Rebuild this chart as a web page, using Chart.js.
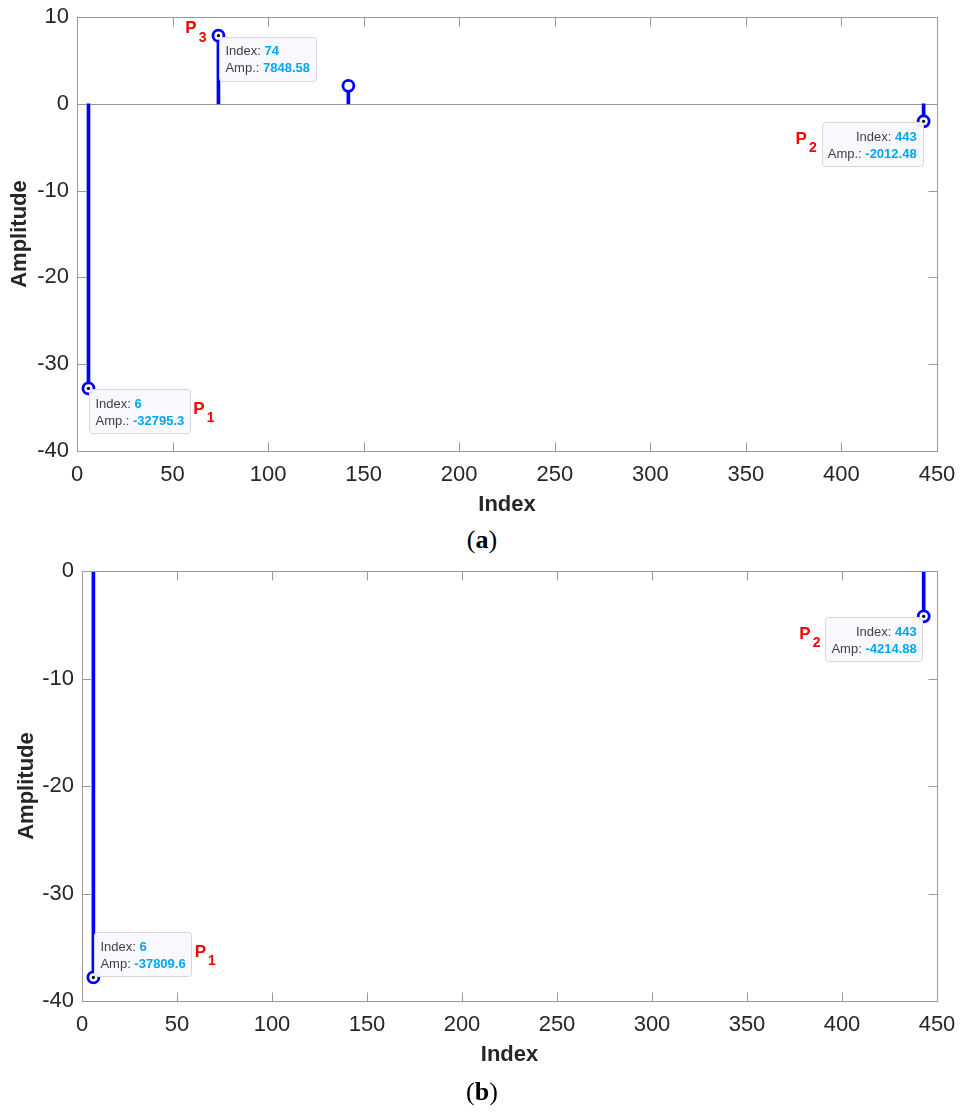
<!DOCTYPE html>
<html>
<head>
<meta charset="utf-8">
<script src="https://cdn.jsdelivr.net/npm/chart.js@4.4.1/dist/chart.umd.min.js"></script>
<style>
  body { margin: 0; background: #fff; width: 964px; height: 1115px; position: relative; overflow: hidden; }
  .box { position: absolute; left: 0; width: 964px; }
  #boxA { top: 0; height: 520px; }
  #boxB { top: 550px; height: 530px; }
  .caption { position: absolute; left: 0; width: 964px; text-align: center; font-family: "Liberation Serif", "Times New Roman", serif; font-size: 26px; line-height: 30px; color: #000; }
</style>
</head>
<body>
<div class="box" id="boxA"><canvas id="chartA"></canvas></div>
<div class="caption" style="top:525px">(<b>a</b>)</div>
<div class="box" id="boxB"><canvas id="chartB"></canvas></div>
<div class="caption" style="top:1077px">(<b>b</b>)</div>
<script>
// Data (amplitudes in raw units, axis shows them /1000)
const indexA = [6, 74, 142, 443];
const ampA = [-32795.3, 7848.58, 2070, -2012.48];
const indexB = [6, 443];
const ampB = [-37809.6, -4214.88];

// Axis ticks
const xTicks = [0, 50, 100, 150, 200, 250, 300, 350, 400, 450];
const yTicksA = [-40, -30, -20, -10, 0, 10];
const yTicksB = [-40, -30, -20, -10, 0];

// Data tips: which point (position in the arrays above) and the peak name
const tipPointA = [0, 3, 1];
const tipNameA = ["1", "2", "3"];
const tipPointB = [0, 1];
const tipNameB = ["1", "2"];

const blue = "#0000ff";
const axisColor = "#9a9a9a";
const textColor = "#262626";
const fontFamily = "'Liberation Sans', Arial, Helvetica, sans-serif";

// placement of each tip box relative to its point, and of its P label
const tipLayoutA = [
  { dx: 1, dy: 1, label: "right" },
  { dx: -1, dy: 1, label: "left" },
  { dx: 1, dy: 1, label: "point" },
];
const tipLayoutB = [
  { dx: 1, dy: -1, label: "right" },
  { dx: -1, dy: 1, label: "left" },
];

let drawPeakLabel = (ctx, x, yMid, sub, alignRight) => {
  ctx.fillStyle = "#ff0000";
  ctx.textBaseline = "middle";
  ctx.textAlign = "left";
  ctx.font = "bold 17px " + fontFamily;
  let wP = ctx.measureText("P").width;
  ctx.font = "bold 14px " + fontFamily;
  let wS = ctx.measureText(sub).width;
  let start = alignRight ? x - (wP + 2 + wS) : x;
  ctx.font = "bold 17px " + fontFamily;
  ctx.fillText("P", start, yMid);
  ctx.font = "bold 14px " + fontFamily;
  ctx.fillText(sub, start + wP + 2, yMid + 9);
};

let drawTip = (ctx, px, py, idx, amp, ampLabel, name, lay) => {
  let l1 = "Index: ", v1 = String(idx);
  let l2 = ampLabel + " ", v2 = String(amp);
  ctx.font = "13px " + fontFamily;
  let wl1 = ctx.measureText(l1).width, wl2 = ctx.measureText(l2).width;
  ctx.font = "bold 13px " + fontFamily;
  let wv1 = ctx.measureText(v1).width, wv2 = ctx.measureText(v2).width;
  let boxW = Math.max(wl1 + wv1, wl2 + wv2) + 12;
  let boxH = 44;
  let bx = lay.dx > 0 ? px + 1 : px - 1 - boxW;
  let by = lay.dy > 0 ? py + 1 : py - 1 - boxH;

  // box
  ctx.beginPath();
  ctx.roundRect(Math.round(bx) + 0.5, Math.round(by) + 0.5, Math.round(boxW), boxH, 3);
  ctx.fillStyle = "rgba(249,249,253,0.95)";
  ctx.fill();
  ctx.strokeStyle = "#d6d6dc";
  ctx.lineWidth = 1;
  ctx.stroke();

  // text
  ctx.textBaseline = "middle";
  let rows = [[l1, v1, wl1, wv1, by + 15], [l2, v2, wl2, wv2, by + 32]];
  rows.forEach(([l, v, wl, wv, ty]) => {
    let tx = lay.dx > 0 ? bx + 6 : bx + boxW - 6 - wl - wv;
    ctx.textAlign = "left";
    ctx.font = "13px " + fontFamily;
    ctx.fillStyle = "#404040";
    ctx.fillText(l, tx, ty);
    ctx.font = "bold 13px " + fontFamily;
    ctx.fillStyle = "#00a6f5";
    ctx.fillText(v, tx + wl, ty);
  });

  // black dot on the tipped marker
  ctx.beginPath();
  ctx.arc(px, py, 1.6, 0, 2 * Math.PI);
  ctx.fillStyle = "#000";
  ctx.fill();

  // P label
  if (lay.label === "right") drawPeakLabel(ctx, bx + boxW + 3, by + boxH / 2 - 2, name, false);
  else if (lay.label === "left") drawPeakLabel(ctx, bx - 5, by + boxH / 2 - 5, name, true);
  else drawPeakLabel(ctx, px - 12, py - 7, name, true);
};

// Box, inward ticks, baseline and data tips
const stemFrame = {
  id: "stemFrame",
  beforeDatasetsDraw(chart, args, opts) {
    const { ctx, chartArea: a, scales: { y } } = chart;
    if (!opts.baseline) return;
    let y0 = Math.round(y.getPixelForValue(0)) + 0.5;
    ctx.save();
    ctx.strokeStyle = axisColor;
    ctx.lineWidth = 1;
    ctx.beginPath();
    ctx.moveTo(a.left, y0);
    ctx.lineTo(a.right, y0);
    ctx.stroke();
    ctx.restore();
  },
  afterDatasetsDraw(chart, args, opts) {
    const { ctx, chartArea: a, scales: { x, y } } = chart;
    const L = Math.round(a.left) + 0.5, R = Math.round(a.right) + 0.5;
    const T = Math.round(a.top) + 0.5, B = Math.round(a.bottom) + 0.5;
    const tickLen = 9;
    ctx.save();
    ctx.strokeStyle = axisColor;
    ctx.lineWidth = 1;
    ctx.strokeRect(L, T, R - L, B - T);
    ctx.beginPath();
    x.ticks.forEach((t) => {
      let p = Math.round(x.getPixelForValue(t.value)) + 0.5;
      ctx.moveTo(p, B); ctx.lineTo(p, B - tickLen);
      ctx.moveTo(p, T); ctx.lineTo(p, T + tickLen);
    });
    y.ticks.forEach((t) => {
      let p = Math.round(y.getPixelForValue(t.value)) + 0.5;
      ctx.moveTo(L, p); ctx.lineTo(L + tickLen, p);
      ctx.moveTo(R, p); ctx.lineTo(R - tickLen, p);
    });
    ctx.stroke();

    opts.tips.forEach((i, k) => {
      let px = x.getPixelForValue(opts.index[i]);
      let py = y.getPixelForValue(opts.amp[i] / 1000);
      drawTip(ctx, px, py, opts.index[i], opts.amp[i], opts.ampLabel, opts.names[k], opts.layout[k]);
    });
    ctx.restore();
  },
};

let makeConfig = (index, amp, yTicks, yMin, yMax, dims, tipOpts) => ({
  type: "bar",
  data: {
    datasets: [
      {
        type: "bar",
        data: index.map((v, i) => ({ x: v, y: [0, amp[i] / 1000] })),
        backgroundColor: blue,
        borderWidth: 0,
        barThickness: 3,
        grouped: false,
        order: 2,
      },
      {
        type: "scatter",
        data: index.map((v, i) => ({ x: v, y: amp[i] / 1000 })),
        pointStyle: "circle",
        pointRadius: 5.5,
        pointBorderWidth: 2.8,
        pointBorderColor: blue,
        pointBackgroundColor: "#ffffff",
        order: 1,
      },
    ],
  },
  options: {
    responsive: true,
    maintainAspectRatio: false,
    animation: false,
    events: [],
    layout: { padding: { top: dims.top, right: 27, left: 0, bottom: 0 } },
    plugins: {
      legend: { display: false },
      tooltip: { enabled: false },
      stemFrame: tipOpts,
    },
    scales: {
      x: {
        type: "linear",
        min: xTicks[0],
        max: xTicks[xTicks.length - 1],
        offset: false,
        grid: { display: false, drawTicks: false, offset: false },
        border: { display: false },
        afterBuildTicks: (s) => { s.ticks = xTicks.map((v) => ({ value: v })); },
        afterFit: (s) => {
          s.height = dims.xHeight;
          s.paddingLeft = 0;
          s.paddingRight = 0;
        },
        ticks: { color: textColor, padding: 11, maxRotation: 0, font: { family: fontFamily, size: 22 } },
        title: {
          display: true,
          text: "Index",
          color: textColor,
          padding: { top: 0, bottom: dims.xTitlePad },
          font: { family: fontFamily, size: 22, weight: "bold" },
        },
      },
      y: {
        type: "linear",
        min: yMin,
        max: yMax,
        grid: { display: false, drawTicks: false },
        border: { display: false },
        afterBuildTicks: (s) => { s.ticks = yTicks.map((v) => ({ value: v })); },
        afterFit: (s) => {
          s.width = dims.yWidth;
          s.paddingTop = 0;
          s.paddingBottom = 0;
        },
        ticks: { color: textColor, padding: dims.yPad, font: { family: fontFamily, size: 22 } },
        title: {
          display: true,
          text: "Amplitude",
          color: textColor,
          padding: { top: dims.yTitlePad, bottom: 0 },
          font: { family: fontFamily, size: 22, weight: "bold" },
        },
      },
    },
  },
  plugins: [stemFrame],
});

let chartA = new Chart(
  document.getElementById("chartA"),
  makeConfig(indexA, ampA, yTicksA, -40, 10,
    { top: 17, xHeight: 69, yWidth: 77, yPad: 8, xTitlePad: 2, yTitlePad: 7 },
    { baseline: true, index: indexA, amp: ampA, tips: tipPointA, names: tipNameA, layout: tipLayoutA, ampLabel: "Amp.:" })
);

let chartB = new Chart(
  document.getElementById("chartB"),
  makeConfig(indexB, ampB, yTicksB, -40, 0,
    { top: 21, xHeight: 79, yWidth: 82, yPad: 8, xTitlePad: 12, yTitlePad: 14 },
    { baseline: false, index: indexB, amp: ampB, tips: tipPointB, names: tipNameB, layout: tipLayoutB, ampLabel: "Amp:" })
);
</script>
</body>
</html>
